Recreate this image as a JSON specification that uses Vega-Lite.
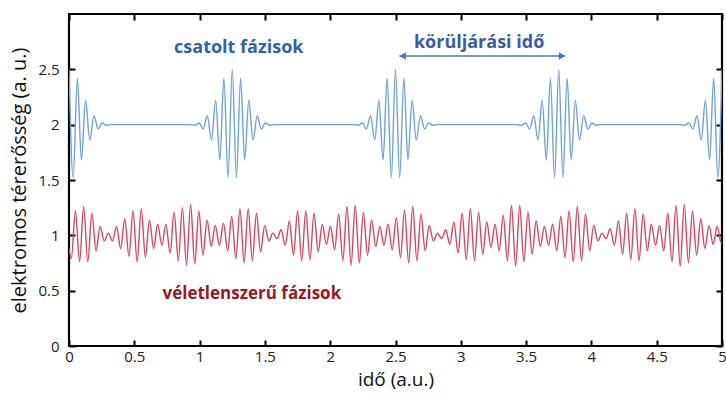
{
  "$schema": "https://vega.github.io/schema/vega-lite/v6.json",
  "width": 653,
  "height": 332,
  "autosize": "none",
  "padding": {"left": 69, "top": 14, "right": 4, "bottom": 48},
  "background": "white",
  "config": {
    "font": "Open Sans",
    "view": {"stroke": "black", "strokeWidth": 2.2},
    "axis": {
      "domain": false,
      "grid": false,
      "tickColor": "black",
      "tickWidth": 2,
      "tickSize": -6,
      "labelFont": "Open Sans",
      "labelFontSize": 15,
      "labelColor": "#222222",
      "titleFont": "Open Sans",
      "titleFontSize": 20,
      "titleFontWeight": "normal",
      "titleColor": "#111111"
    }
  },
  "datasets": {
    "csatolt": [
      {"t": 0, "v": 2.5}, {"t": 0.032, "v": 1.52}, {"t": 0.064, "v": 2.42}, {"t": 0.095, "v": 1.68}, {"t": 0.127, "v": 2.22}, {"t": 0.159, "v": 1.86}, {"t": 0.191, "v": 2.08}, {"t": 0.223, "v": 1.96}, {"t": 0.254, "v": 2.015}, {"t": 0.286, "v": 1.995}, {"t": 0.318, "v": 2},
      {"t": 0.932, "v": 2}, {"t": 0.964, "v": 1.995}, {"t": 0.996, "v": 2.015}, {"t": 1.027, "v": 1.96}, {"t": 1.059, "v": 2.08}, {"t": 1.091, "v": 1.86}, {"t": 1.123, "v": 2.22}, {"t": 1.155, "v": 1.68}, {"t": 1.186, "v": 2.42}, {"t": 1.218, "v": 1.52}, {"t": 1.25, "v": 2.5}, {"t": 1.282, "v": 1.52}, {"t": 1.314, "v": 2.42}, {"t": 1.345, "v": 1.68}, {"t": 1.377, "v": 2.22}, {"t": 1.409, "v": 1.86}, {"t": 1.441, "v": 2.08}, {"t": 1.473, "v": 1.96}, {"t": 1.504, "v": 2.015}, {"t": 1.536, "v": 1.995}, {"t": 1.568, "v": 2},
      {"t": 2.182, "v": 2}, {"t": 2.214, "v": 1.995}, {"t": 2.246, "v": 2.015}, {"t": 2.277, "v": 1.96}, {"t": 2.309, "v": 2.08}, {"t": 2.341, "v": 1.86}, {"t": 2.373, "v": 2.22}, {"t": 2.405, "v": 1.68}, {"t": 2.436, "v": 2.42}, {"t": 2.468, "v": 1.52}, {"t": 2.5, "v": 2.5}, {"t": 2.532, "v": 1.52}, {"t": 2.564, "v": 2.42}, {"t": 2.595, "v": 1.68}, {"t": 2.627, "v": 2.22}, {"t": 2.659, "v": 1.86}, {"t": 2.691, "v": 2.08}, {"t": 2.723, "v": 1.96}, {"t": 2.754, "v": 2.015}, {"t": 2.786, "v": 1.995}, {"t": 2.818, "v": 2},
      {"t": 3.432, "v": 2}, {"t": 3.464, "v": 1.995}, {"t": 3.496, "v": 2.015}, {"t": 3.527, "v": 1.96}, {"t": 3.559, "v": 2.08}, {"t": 3.591, "v": 1.86}, {"t": 3.623, "v": 2.22}, {"t": 3.655, "v": 1.68}, {"t": 3.686, "v": 2.42}, {"t": 3.718, "v": 1.52}, {"t": 3.75, "v": 2.5}, {"t": 3.782, "v": 1.52}, {"t": 3.814, "v": 2.42}, {"t": 3.845, "v": 1.68}, {"t": 3.877, "v": 2.22}, {"t": 3.909, "v": 1.86}, {"t": 3.941, "v": 2.08}, {"t": 3.973, "v": 1.96}, {"t": 4.004, "v": 2.015}, {"t": 4.036, "v": 1.995}, {"t": 4.068, "v": 2},
      {"t": 4.682, "v": 2}, {"t": 4.714, "v": 1.995}, {"t": 4.746, "v": 2.015}, {"t": 4.777, "v": 1.96}, {"t": 4.809, "v": 2.08}, {"t": 4.841, "v": 1.86}, {"t": 4.873, "v": 2.22}, {"t": 4.905, "v": 1.68}, {"t": 4.936, "v": 2.42}, {"t": 4.968, "v": 1.52}, {"t": 5, "v": 2.5}
    ],
    "veletlen": [
      {"t": 0, "v": 0.88},
      {"t": 0.018, "v": 0.79}, {"t": 0.049, "v": 1.22}, {"t": 0.081, "v": 0.76}, {"t": 0.112, "v": 1.26},
      {"t": 0.144, "v": 0.76}, {"t": 0.175, "v": 1.2}, {"t": 0.207, "v": 0.86}, {"t": 0.238, "v": 1.08},
      {"t": 0.27, "v": 0.95}, {"t": 0.301, "v": 1.02}, {"t": 0.333, "v": 0.95}, {"t": 0.364, "v": 1.08},
      {"t": 0.396, "v": 0.88}, {"t": 0.427, "v": 1.15}, {"t": 0.459, "v": 0.81}, {"t": 0.49, "v": 1.22},
      {"t": 0.522, "v": 0.76}, {"t": 0.553, "v": 1.24}, {"t": 0.585, "v": 0.8}, {"t": 0.616, "v": 1.14},
      {"t": 0.648, "v": 0.88}, {"t": 0.679, "v": 1.1}, {"t": 0.711, "v": 0.91}, {"t": 0.742, "v": 1.1},
      {"t": 0.774, "v": 0.84}, {"t": 0.805, "v": 1.21}, {"t": 0.837, "v": 0.77}, {"t": 0.868, "v": 1.25},
      {"t": 0.9, "v": 0.73}, {"t": 0.931, "v": 1.28}, {"t": 0.963, "v": 0.74}, {"t": 0.994, "v": 1.22},
      {"t": 1.026, "v": 0.82}, {"t": 1.057, "v": 1.14}, {"t": 1.089, "v": 0.9}, {"t": 1.12, "v": 1.09},
      {"t": 1.152, "v": 0.91}, {"t": 1.183, "v": 1.11}, {"t": 1.215, "v": 0.86}, {"t": 1.246, "v": 1.17},
      {"t": 1.278, "v": 0.79}, {"t": 1.309, "v": 1.24}, {"t": 1.341, "v": 0.75}, {"t": 1.372, "v": 1.24},
      {"t": 1.404, "v": 0.77}, {"t": 1.435, "v": 1.2}, {"t": 1.467, "v": 0.85}, {"t": 1.498, "v": 1.09},
      {"t": 1.53, "v": 0.95}, {"t": 1.561, "v": 1.02}, {"t": 1.593, "v": 0.97}, {"t": 1.624, "v": 1.05},
      {"t": 1.656, "v": 0.91}, {"t": 1.687, "v": 1.13}, {"t": 1.719, "v": 0.82}, {"t": 1.75, "v": 1.22},
      {"t": 1.782, "v": 0.77}, {"t": 1.813, "v": 1.22}, {"t": 1.845, "v": 0.78}, {"t": 1.876, "v": 1.2},
      {"t": 1.908, "v": 0.85}, {"t": 1.939, "v": 1.1}, {"t": 1.971, "v": 0.92}, {"t": 2.002, "v": 1.08},
      {"t": 2.034, "v": 0.87}, {"t": 2.065, "v": 1.19}, {"t": 2.097, "v": 0.77}, {"t": 2.128, "v": 1.26},
      {"t": 2.16, "v": 0.73}, {"t": 2.191, "v": 1.27}, {"t": 2.223, "v": 0.75}, {"t": 2.254, "v": 1.21},
      {"t": 2.286, "v": 0.82}, {"t": 2.317, "v": 1.14}, {"t": 2.349, "v": 0.9}, {"t": 2.38, "v": 1.08},
      {"t": 2.412, "v": 0.91}, {"t": 2.443, "v": 1.1}, {"t": 2.475, "v": 0.87}, {"t": 2.506, "v": 1.16},
      {"t": 2.538, "v": 0.8}, {"t": 2.569, "v": 1.23}, {"t": 2.601, "v": 0.75}, {"t": 2.632, "v": 1.26},
      {"t": 2.664, "v": 0.77}, {"t": 2.695, "v": 1.19}, {"t": 2.727, "v": 0.86}, {"t": 2.758, "v": 1.09},
      {"t": 2.79, "v": 0.95}, {"t": 2.821, "v": 1.02}, {"t": 2.853, "v": 0.97}, {"t": 2.884, "v": 1.05},
      {"t": 2.916, "v": 0.92}, {"t": 2.947, "v": 1.12}, {"t": 2.979, "v": 0.84}, {"t": 3.01, "v": 1.2},
      {"t": 3.042, "v": 0.78}, {"t": 3.073, "v": 1.24}, {"t": 3.105, "v": 0.77}, {"t": 3.136, "v": 1.21},
      {"t": 3.168, "v": 0.83}, {"t": 3.199, "v": 1.12}, {"t": 3.231, "v": 0.89}, {"t": 3.262, "v": 1.1},
      {"t": 3.294, "v": 0.86}, {"t": 3.325, "v": 1.18}, {"t": 3.357, "v": 0.77}, {"t": 3.388, "v": 1.27},
      {"t": 3.42, "v": 0.72}, {"t": 3.451, "v": 1.27}, {"t": 3.483, "v": 0.76}, {"t": 3.514, "v": 1.21},
      {"t": 3.546, "v": 0.83}, {"t": 3.577, "v": 1.13}, {"t": 3.609, "v": 0.9}, {"t": 3.64, "v": 1.08},
      {"t": 3.672, "v": 0.91}, {"t": 3.703, "v": 1.1}, {"t": 3.735, "v": 0.86}, {"t": 3.766, "v": 1.17},
      {"t": 3.798, "v": 0.8}, {"t": 3.829, "v": 1.22}, {"t": 3.861, "v": 0.76}, {"t": 3.892, "v": 1.26},
      {"t": 3.924, "v": 0.77}, {"t": 3.955, "v": 1.19}, {"t": 3.987, "v": 0.86}, {"t": 4.018, "v": 1.09},
      {"t": 4.05, "v": 0.95}, {"t": 4.081, "v": 1.02}, {"t": 4.113, "v": 0.97}, {"t": 4.144, "v": 1.06},
      {"t": 4.176, "v": 0.91}, {"t": 4.207, "v": 1.13}, {"t": 4.239, "v": 0.83}, {"t": 4.27, "v": 1.2},
      {"t": 4.302, "v": 0.78}, {"t": 4.333, "v": 1.24}, {"t": 4.365, "v": 0.77}, {"t": 4.396, "v": 1.19},
      {"t": 4.428, "v": 0.86}, {"t": 4.459, "v": 1.1}, {"t": 4.491, "v": 0.91}, {"t": 4.522, "v": 1.09},
      {"t": 4.554, "v": 0.86}, {"t": 4.585, "v": 1.2}, {"t": 4.617, "v": 0.76}, {"t": 4.648, "v": 1.27},
      {"t": 4.68, "v": 0.72}, {"t": 4.711, "v": 1.28}, {"t": 4.743, "v": 0.75}, {"t": 4.774, "v": 1.22},
      {"t": 4.806, "v": 0.82}, {"t": 4.837, "v": 1.15}, {"t": 4.869, "v": 0.88}, {"t": 4.9, "v": 1.09},
      {"t": 4.932, "v": 0.92}, {"t": 4.963, "v": 1.08}, {"t": 4.995, "v": 0.93}, {"t": 5, "v": 0.94}
    ]
  },
  "layer": [
    {
      "data": {"name": "csatolt"},
      "mark": {"type": "line", "interpolate": "monotone", "color": "#72A2DA", "strokeWidth": 1.4, "clip": true},
      "encoding": {
        "x": {
          "field": "t", "type": "quantitative",
          "scale": {"domain": [0, 5], "nice": false, "zero": false},
          "axis": {
            "orient": "bottom", "title": "idő (a.u.)",
            "values": [0, 0.5, 1, 1.5, 2, 2.5, 3, 3.5, 4, 4.5, 5],
            "format": "~g", "labelPadding": 9, "titlePadding": 6,
            "titleFontSize": 19, "labelFlush": false
          }
        },
        "y": {
          "field": "v", "type": "quantitative",
          "scale": {"domain": [0, 3], "nice": false, "zero": false},
          "axis": {
            "orient": "left", "title": "elektromos térerősség (a. u.)",
            "values": [0, 0.5, 1, 1.5, 2, 2.5],
            "format": "~g", "labelPadding": 16, "titlePadding": 8,
            "labelFlush": false
          }
        }
      }
    },
    {
      "data": {"name": "veletlen"},
      "mark": {"type": "line", "interpolate": "monotone", "color": "#D9445F", "strokeWidth": 1.4, "clip": true},
      "encoding": {
        "x": {
          "field": "t", "type": "quantitative",
          "axis": {
            "orient": "top", "title": null, "labels": false,
            "values": [0, 0.5, 1, 1.5, 2, 2.5, 3, 3.5, 4, 4.5, 5]
          }
        },
        "y": {
          "field": "v", "type": "quantitative",
          "axis": {
            "orient": "right", "title": null, "labels": false,
            "values": [0, 0.5, 1, 1.5, 2, 2.5]
          }
        }
      }
    },
    {
      "data": {"values": [{"t": 2.53, "t2": 3.8, "v": 2.62}]},
      "mark": {"type": "rule", "color": "#4A74C9", "strokeWidth": 1.5},
      "encoding": {
        "x": {"field": "t", "type": "quantitative", "axis": null},
        "x2": {"field": "t2"},
        "y": {"field": "v", "type": "quantitative", "axis": null}
      }
    },
    {
      "data": {"values": [{"t": 2.555, "v": 2.62}]},
      "mark": {"type": "point", "shape": "triangle-left", "filled": true, "size": 55, "color": "#4A74C9", "opacity": 1},
      "encoding": {
        "x": {"field": "t", "type": "quantitative", "axis": null},
        "y": {"field": "v", "type": "quantitative", "axis": null}
      }
    },
    {
      "data": {"values": [{"t": 3.775, "v": 2.62}]},
      "mark": {"type": "point", "shape": "triangle-right", "filled": true, "size": 55, "color": "#4A74C9", "opacity": 1},
      "encoding": {
        "x": {"field": "t", "type": "quantitative", "axis": null},
        "y": {"field": "v", "type": "quantitative", "axis": null}
      }
    },
    {
      "data": {"values": [
        {"t": 1.3, "v": 2.69, "label": "csatolt fázisok", "c": "#2F62A6", "fs": 18},
        {"t": 3.14, "v": 2.74, "label": "körüljárási idő", "c": "#3A5BA9", "fs": 18},
        {"t": 1.4, "v": 0.47, "label": "véletlenszerű fázisok", "c": "#A01525", "fs": 17}
      ]},
      "mark": {"type": "text", "font": "Open Sans", "fontWeight": "bold", "align": "center", "baseline": "middle"},
      "encoding": {
        "x": {"field": "t", "type": "quantitative", "axis": null},
        "y": {"field": "v", "type": "quantitative", "axis": null},
        "text": {"field": "label"},
        "color": {"field": "c", "type": "nominal", "scale": null},
        "size": {"field": "fs", "type": "quantitative", "scale": null}
      }
    }
  ],
  "resolve": {"axis": {"x": "independent", "y": "independent"}}
}
